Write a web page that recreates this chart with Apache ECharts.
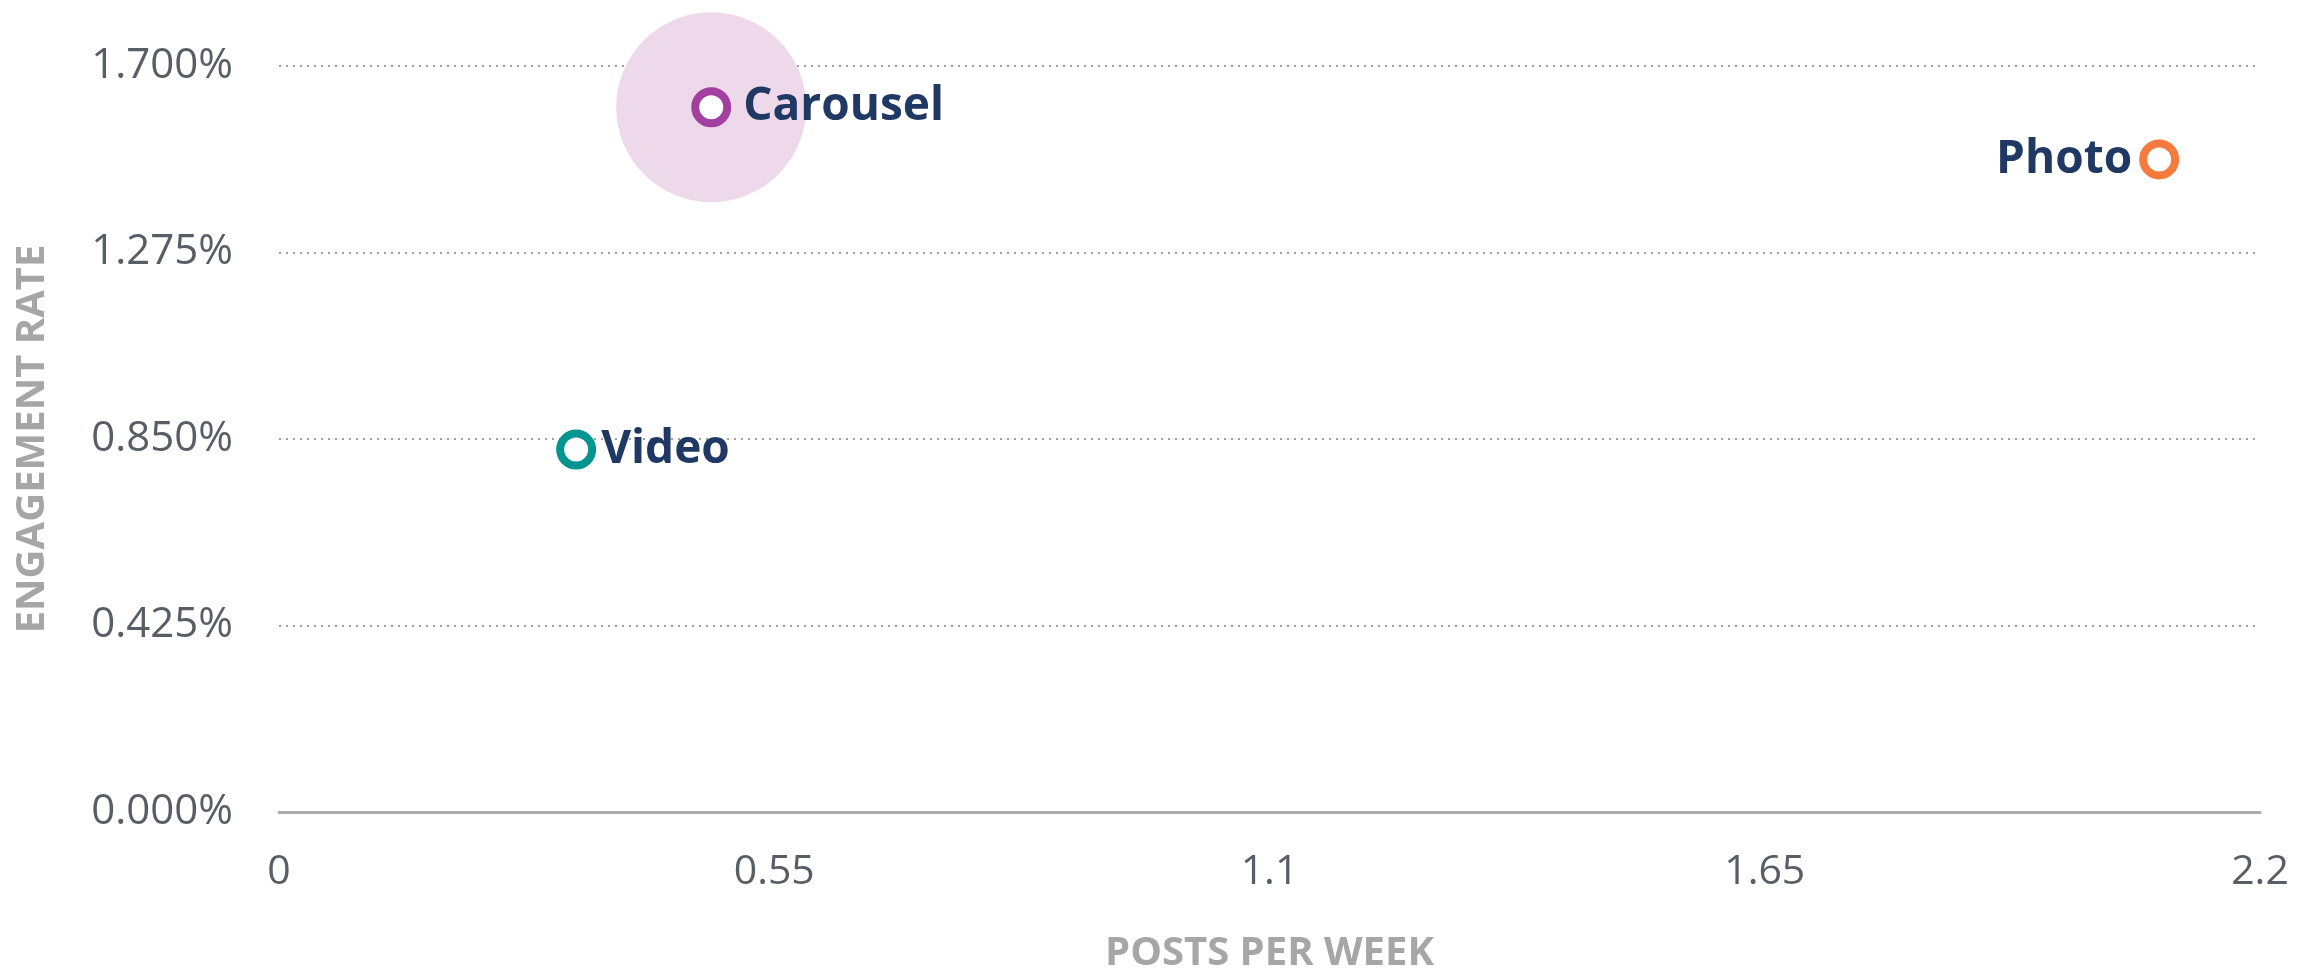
<!DOCTYPE html>
<html>
<head>
<meta charset="utf-8">
<title>Engagement rate vs posts per week</title>
<script src="https://cdn.jsdelivr.net/npm/echarts@6/dist/echarts.min.js"></script>
<style>
  html, body { margin: 0; padding: 0; background: #ffffff; }
  #chart { width: 2312px; height: 972px; }
</style>
</head>
<body>
<div id="chart"></div>
<script>
// Post formats with their posting frequency and engagement
const formats = ['Carousel', 'Photo', 'Video'];
const postsPerWeek = [0.48, 2.088, 0.33];
const engagementRate = [1.606, 1.487, 0.826];

// Highlighted format drawn with a halo behind its point
const haloFormat = 'Carousel';

// Axis ticks
const xTicks = [0, 0.55, 1.1, 1.65, 2.2];
const yTicks = [0, 0.425, 0.85, 1.275, 1.7];

// Per-format styling: ring colour and where its name sits
const formatStyle = {
  Carousel: { color: '#a23f9f', side: 'right', gap: 12 },
  Photo:    { color: '#f47a3e', side: 'left',  gap: 7 },
  Video:    { color: '#009591', side: 'right', gap: 5 }
};

const pointData = formats.map((name, i) => ({
  name: name,
  value: [postsPerWeek[i], engagementRate[i]],
  itemStyle: {
    color: '#ffffff',
    borderColor: formatStyle[name].color,
    borderWidth: 8,
    opacity: 1
  },
  label: { position: formatStyle[name].side, distance: formatStyle[name].gap }
}));

const haloIndex = formats.indexOf(haloFormat);
const haloData = [{
  name: haloFormat,
  value: [postsPerWeek[haloIndex], engagementRate[haloIndex]]
}];

const chart = echarts.init(document.getElementById('chart'), null, { renderer: 'canvas' });

const font = '"Open Sans", "Noto Sans", sans-serif';

chart.setOption({
  animation: false,
  textStyle: { fontFamily: font },
  grid: {
    left: 279, right: 52, top: 66, bottom: 160,
    containLabel: false,
    outerBoundsMode: 'none'
  },
  xAxis: {
    type: 'value',
    min: xTicks[0],
    max: xTicks[xTicks.length - 1],
    interval: xTicks[1] - xTicks[0],
    name: 'POSTS PER WEEK',
    nameLocation: 'middle',
    nameGap: 122,
    nameTextStyle: { fontFamily: font, fontSize: 40, fontWeight: 'bold', color: '#a6a6a6' },
    axisLine: { show: true, lineStyle: { color: '#acacac', width: 3 } },
    axisTick: { show: false },
    splitLine: { show: false },
    axisLabel: {
      fontFamily: font, fontSize: 41, color: '#585e66', margin: 40,
      formatter: v => String(+v.toFixed(2))
    }
  },
  yAxis: {
    type: 'value',
    min: yTicks[0],
    max: yTicks[yTicks.length - 1],
    interval: yTicks[1] - yTicks[0],
    name: 'ENGAGEMENT RATE',
    nameLocation: 'middle',
    nameGap: 226,
    nameRotate: 90,
    nameTextStyle: { fontFamily: font, fontSize: 40, fontWeight: 'bold', color: '#a6a6a6' },
    axisLine: { show: false },
    axisTick: { show: false },
    splitLine: { show: true, lineStyle: { color: '#a0a0a0', width: 2, type: [2, 5] } },
    axisLabel: {
      fontFamily: font, fontSize: 42, color: '#585e66', margin: 46,
      formatter: v => v.toFixed(3) + '%'
    }
  },
  series: [
    {
      name: 'halo',
      type: 'scatter',
      data: haloData,
      symbol: 'circle',
      symbolSize: 190,
      itemStyle: { color: '#eed9eb', opacity: 1 },
      silent: true,
      z: 1
    },
    {
      name: 'formats',
      type: 'scatter',
      data: pointData,
      symbol: 'circle',
      symbolSize: 32,
      z: 3,
      label: {
        show: true,
        formatter: '{b}',
        fontFamily: font,
        fontSize: 46,
        fontWeight: 'bold',
        color: '#1f3864'
      }
    }
  ]
});
</script>
</body>
</html>
